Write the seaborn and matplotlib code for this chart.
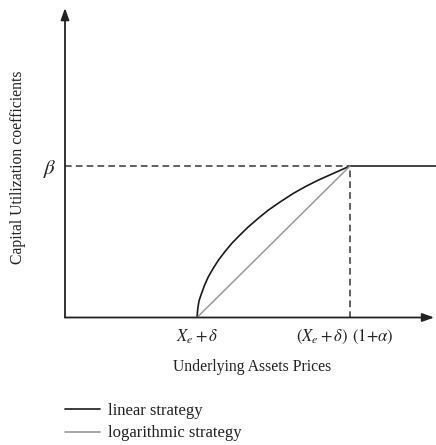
import matplotlib
matplotlib.use("Agg")
import matplotlib.pyplot as plt
import matplotlib.transforms as mtransforms
import seaborn as sns
import pandas as pd
from matplotlib.lines import Line2D

# ---- data (x: Xe+delta = 1, (Xe+delta)(1+alpha) = 2 ; y: beta = 1) ----
curve_x = [1.000, 1.005, 1.013, 1.028, 1.048, 1.072, 1.103, 1.138, 1.180, 1.225,
           1.278, 1.334, 1.397, 1.465, 1.545, 1.629, 1.710, 1.793, 1.895, 2.000]
curve_y = [0.000, 0.060, 0.110, 0.155, 0.210, 0.265, 0.320, 0.376, 0.432, 0.487,
           0.542, 0.597, 0.652, 0.708, 0.764, 0.819, 0.865, 0.907, 0.953, 1.000]
flat_x = [2.000, 2.562]
flat_y = [1.000, 1.000]
straight_x = [1.000, 2.000]
straight_y = [0.000, 1.000]
beta_level = 1.0
knee_x = 2.0
xtick_vals = [1.0, 2.0]
xtick_labels = [r"$X_e + \delta$", r"$(X_e + \delta)\;\,(1{+}\alpha)$"]
ytick_vals = [1.0]
ytick_labels = [r"$\beta$"]
legend_labels = ["linear strategy", "logarithmic strategy"]
x_label = "Underlying Assets Prices"
y_label = "Capital Utilization coefficients"

sns.set_style("white")
plt.rcParams["font.family"] = ["Liberation Serif", "DejaVu Serif"]
plt.rcParams["mathtext.fontset"] = "stix"

W, H = 436, 445
fig = plt.figure(figsize=(W / 100, H / 100), dpi=100)
ax_left, ax_right, ax_top, ax_bot = 65, 436, 8, 317.5
ax = fig.add_axes([ax_left / W, (H - ax_bot) / H,
                   (ax_right - ax_left) / W, (ax_bot - ax_top) / H])
ax.set_frame_on(False)

dark = "#1a1a1a"
grey = "#9a9a9a"
dash_col = "#555555"

df_curve = pd.DataFrame({"x": curve_x, "y": curve_y})
df_flat = pd.DataFrame({"x": flat_x, "y": flat_y})
df_straight = pd.DataFrame({"x": straight_x, "y": straight_y})

sns.lineplot(data=df_curve, x="x", y="y", ax=ax, color=dark, lw=1.2,
             sort=False, estimator=None)
sns.lineplot(data=df_flat, x="x", y="y", ax=ax, color="#333333", lw=1.3,
             sort=False, estimator=None)
sns.lineplot(data=df_straight, x="x", y="y", ax=ax, color=grey, lw=1.1,
             sort=False, estimator=None)

XMIN, XMAX, YMAX = 0.137, 2.562, 2.043
ax.plot([XMIN, knee_x], [beta_level, beta_level], color=dash_col,
        lw=1.3, dashes=(3.7, 2.3), zorder=1)
ax.plot([knee_x, knee_x], [0, beta_level], color=dash_col, lw=1.3,
        dashes=(3.7, 2.3), zorder=1)

ax.set_xlim(XMIN, XMAX)
ax.set_ylim(0, YMAX)

arrow = dict(arrowstyle="-|>,head_length=0.7,head_width=0.25",
             color="#222222", lw=1.3, shrinkA=0, shrinkB=0)
ax.annotate("", xy=(0, 1.0), xytext=(0, 0), xycoords="axes fraction", arrowprops=arrow)
ax.annotate("", xy=(0.995, 0), xytext=(0, 0), xycoords="axes fraction", arrowprops=arrow)

ax.set_xticks(xtick_vals)
ax.set_xticklabels(xtick_labels, fontsize=12)
ax.set_yticks(ytick_vals)
ax.set_yticklabels(ytick_labels, fontsize=15)
ax.tick_params(axis="x", length=0, pad=7.5, colors="#222222")
ax.tick_params(axis="y", length=0, pad=6, colors="#222222")

# nudge the second x tick label slightly left, as in the reference
lbl = ax.get_xticklabels()[1]
lbl.set_transform(lbl.get_transform() +
                  mtransforms.ScaledTranslation(-5 / 100, 0, fig.dpi_scale_trans))

ax.set_xlabel(x_label, fontsize=11.3, color="#222222")
ax.xaxis.set_label_coords(0.504, -0.135)
ax.set_ylabel(y_label, fontsize=11.3, color="#222222")
ax.yaxis.set_label_coords(-0.105, 0.485)

handles = [Line2D([], [], color=dark, lw=1.2), Line2D([], [], color=grey, lw=1.2)]
fig.legend(handles, legend_labels, loc="upper left",
           bbox_to_anchor=(50 / W, 1 - 388 / H), frameon=False, fontsize=12,
           handlelength=2.1, handletextpad=0.48, labelspacing=0.38,
           labelcolor="#222222")

fig.savefig("out.png", dpi=100)
